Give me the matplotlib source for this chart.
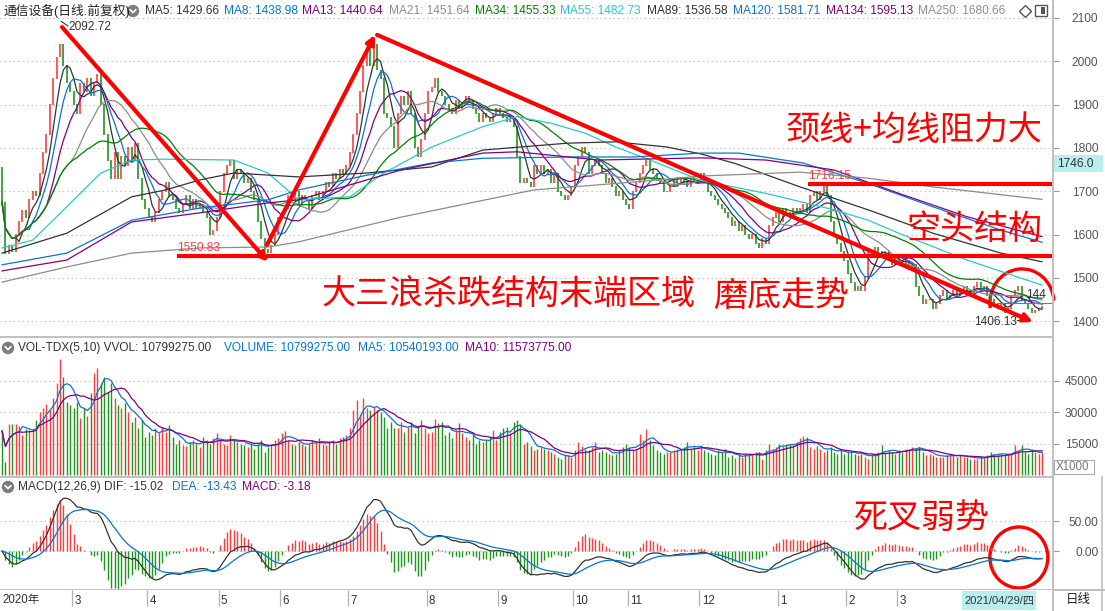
import matplotlib
matplotlib.use('Agg')
import matplotlib.pyplot as plt
from matplotlib.patches import Arc, Ellipse, Rectangle
from matplotlib.lines import Line2D
import numpy as np
import pandas as pd

plt.rcParams['font.family'] = ['Liberation Sans', 'Noto Sans CJK SC', 'DejaVu Sans']

# ---------------- data ----------------
# daily closes, 2020-01-23 .. 2021-04-29 (306 bars)
closes = [
    # Jan 23 + Feb 2020
    1675, 1555, 1575, 1560, 1600, 1630, 1655, 1640, 1680, 1700, 1690, 1740, 1790, 1830, 1900, 1960, 2010, 2040, 1990, 1950, 1930,
    # Mar
    1900, 1880, 1950, 1930, 1960, 1920, 1950, 1970, 1900, 1830, 1770, 1730, 1790, 1730, 1780, 1760, 1800, 1770, 1810, 1730, 1680, 1660,
    # Apr
    1640, 1630, 1650, 1680, 1700, 1720, 1690, 1680, 1660, 1650, 1670, 1690, 1660, 1680, 1660, 1670, 1650, 1640, 1600, 1610, 1640,
    # May
    1700, 1740, 1760, 1770, 1730, 1750, 1740, 1720, 1730, 1700, 1680, 1630, 1590, 1565, 1558, 1575, 1600, 1640,
    # Jun
    1650, 1660, 1690, 1680, 1700, 1670, 1690, 1680, 1660, 1690, 1700, 1680, 1700, 1720, 1710, 1740, 1730, 1750, 1740, 1760,
    # Jul
    1790, 1830, 1880, 1930, 1990, 2030, 1990, 2040, 1980, 1960, 1880, 1870, 1850, 1800, 1880, 1920, 1900, 1930, 1880, 1800, 1780, 1820, 1880,
    # Aug
    1930, 1940, 1960, 1930, 1920, 1900, 1890, 1880, 1910, 1890, 1900, 1920, 1910, 1890, 1880, 1860, 1880, 1870, 1860, 1880, 1890,
    # Sep
    1880, 1870, 1860, 1870, 1850, 1780, 1720, 1730, 1720, 1710, 1760, 1740, 1760, 1740, 1750, 1720, 1740, 1700, 1690, 1680, 1690, 1710,
    # Oct
    1760, 1780, 1800, 1790, 1740, 1760, 1770, 1760, 1740, 1720, 1730, 1710, 1690, 1700, 1680, 1670,
    # Nov
    1660, 1700, 1720, 1740, 1760, 1770, 1750, 1740, 1730, 1720, 1700, 1700, 1710, 1730, 1720, 1730, 1720, 1710, 1730, 1720, 1720,
    # Dec
    1740, 1720, 1700, 1690, 1680, 1670, 1660, 1650, 1640, 1620, 1630, 1610, 1620, 1600, 1590, 1600, 1580, 1570, 1590, 1580, 1620, 1640, 1650,
    # Jan 2021
    1630, 1660, 1650, 1640, 1660, 1650, 1660, 1670, 1650, 1690, 1700, 1680, 1700, 1710, 1690, 1630, 1600, 1580, 1560, 1540,
    # Feb
    1510, 1490, 1470, 1480, 1470, 1500, 1560, 1550, 1570, 1560, 1550, 1560, 1540, 1530, 1550,
    # Mar
    1540, 1530, 1540, 1520, 1530, 1480, 1460, 1440, 1450, 1450, 1430, 1440, 1460, 1470, 1450, 1460, 1470, 1460, 1470, 1480, 1470, 1460, 1480,
    # Apr
    1490, 1470, 1480, 1460, 1450, 1440, 1430, 1440, 1420, 1430, 1460, 1470, 1480, 1450, 1440, 1430, 1420, 1425, 1430, 1433,
]
first_open = 1756

# volume, x1000
volumes = [
    21000, 6200, 24300, 24300, 24300, 23300, 19000, 21700, 21400, 21700,
    26200, 30200, 31800, 34000, 31000, 36500, 43700, 55400, 46600, 35000,
    33400, 31800, 35000, 27000, 31800, 28100, 39000, 48500, 51000, 43700,
    46600, 39700, 43700, 36500, 33400, 31800, 34100, 30200, 25400, 27800,
    22200, 26200, 18200, 20600, 19000, 22200, 19800, 23000, 20600, 23800, 18200,
    15000, 16600, 14200, 13700, 15800, 16600, 14700, 13400, 18200, 16600,
    15000, 17400, 19800, 16600, 15000, 14200, 19000, 16600, 15800, 15000,
    14200, 13400, 15000, 12600, 14700, 16600, 11000, 13400, 15000, 16600,
    17400, 19800, 21000, 16600, 15000, 14200, 15800, 15000, 13700, 15000,
    16600, 15800, 17400, 15000, 14200, 15800, 16600, 15000, 17400, 18200,
    19000, 22200, 31000, 35700, 29000, 36500, 31800, 31000, 32600, 31000,
    30200, 27800, 22200, 25400, 22200, 22200, 25400, 20600, 23000, 25400,
    19800, 23000, 26200, 22200, 19800, 20600, 26900, 24600, 25400, 19000,
    20600, 17400, 21400, 24600, 19800, 18200, 16600, 19000, 15000, 16600,
    15800, 16600, 18200, 21400, 16600, 20600, 22200, 23000, 19800, 25400, 26200,
    24300, 15000, 15800, 13700, 11800, 12600, 13400, 12600, 11800, 11000,
    10200, 8600, 7800, 9400, 9400, 8600, 11800, 15800, 13700, 12600,
    11800, 13400, 15800, 11000, 11800, 11000, 10200, 9400, 10200, 11800,
    13400, 15000, 13400, 11800, 12600, 19300, 16600, 21700, 16600, 14200,
    11800, 11000, 10200, 11000, 11000, 11800, 12600, 12600, 13400, 15800,
    12600, 13400, 11800, 14200, 11800, 11000, 10200, 9400, 11800, 11000,
    12600, 8600, 9400, 8300, 9400, 8600, 10200, 9400, 10200, 11000,
    11000, 7800, 11800, 14700, 12600, 13400, 14700, 13700, 15000, 15000,
    14200, 15800, 17400, 18500, 18200, 13400, 12600, 13700, 12600, 11000,
    11800, 13400, 11000, 10200, 11800, 10200, 11000, 11000, 10200, 9400,
    10200, 8600, 7800, 10200, 9400, 11000, 14200, 11000, 11800, 11000,
    10200, 11800, 11000, 12600, 12600, 13400, 12600, 13400, 11000, 9400,
    10200, 9400, 8600, 8600, 8600, 9400, 10200, 9400, 8600, 9400,
    8600, 8600, 7800, 7800, 7800, 8600, 8600, 9400, 11000, 10200,
    9400, 10200, 9400, 10200, 10200, 14200, 11800, 14200, 11000, 10200,
    11800, 11000, 10200, 10800,
]

# long moving averages read at sample bars
ma55_bars = [0, 9, 19, 29, 38, 48, 58, 68, 78, 87, 102, 112, 126, 141, 151, 161, 171, 180, 190, 205, 224, 244, 254, 263, 283, 305]
ma55_vals = [1569, 1587, 1664, 1742, 1772, 1774, 1773, 1772, 1742, 1680, 1687, 1742, 1802, 1849, 1872, 1857, 1834, 1802, 1772, 1725, 1695, 1657, 1633, 1603, 1541, 1483]
ma89_bars = [0, 19, 38, 48, 58, 68, 87, 107, 126, 141, 166, 180, 195, 205, 215, 234, 254, 273, 293, 305]
ma89_vals = [1557, 1603, 1687, 1703, 1726, 1742, 1733, 1742, 1756, 1795, 1811, 1814, 1802, 1786, 1764, 1710, 1657, 1603, 1557, 1537]
ma120_bars = [0, 19, 38, 58, 78, 87, 107, 126, 141, 166, 185, 205, 216, 235, 254, 273, 293, 305]
ma120_vals = [1530, 1557, 1633, 1661, 1680, 1703, 1737, 1765, 1776, 1779, 1779, 1788, 1788, 1765, 1718, 1664, 1610, 1582]
ma134_bars = [0, 19, 38, 58, 78, 87, 117, 141, 151, 175, 205, 224, 244, 263, 283, 305]
ma134_vals = [1516, 1541, 1629, 1650, 1673, 1680, 1749, 1788, 1791, 1772, 1777, 1772, 1749, 1695, 1641, 1595]
ma250_bars = [0, 19, 38, 58, 78, 87, 117, 156, 185, 205, 234, 254, 273, 305]
ma250_vals = [1490, 1525, 1557, 1569, 1571, 1583, 1640, 1703, 1721, 1735, 1744, 1730, 1710, 1681]

month_bars = [0, 21, 43, 64, 82, 102, 125, 146, 168, 184, 205, 228, 248, 263]
month_labels = ['2020年', '3', '4', '5', '6', '7', '8', '9', '10', '11', '12', '1', '2', '3']

price_ticks = [1400, 1500, 1600, 1700, 1800, 1900, 2000, 2100]
vol_ticks = [15000, 30000, 45000]
macd_ticks = [0, 50]

# hand-drawn trend arrows: (bar, price) -> (bar, price)
trend_arrows = [((17.6, 2079), (78.0, 1537)),
                ((77.7, 1576), (109.4, 2061)),
                ((110.0, 2061), (302.3, 1398))]
neck_levels = [(1550.83, 51.3), (1716.15, 236.4)]

# ---------------- layout helpers ----------------
W, H = 1105, 611
RED = '#ff3c3c'
GREEN = '#1e961e'
C_DARK = '#333333'
C_BLUE = '#0a74d0'
C_PURPLE = '#800080'
C_GRAY = '#8c8c8c'
C_GREEN = '#008000'
C_CYAN = '#2cc8c8'
ANNO = '#ff0000'


def box(x0, y0, x1, y1):
    return [x0 / W, 1 - y1 / H, (x1 - x0) / W, (y1 - y0) / H]


def fx(x):
    return x / W


def fy(y):
    return 1 - y / H


fig = plt.figure(figsize=(W / 100, H / 100), dpi=100)
fig.patch.set_facecolor('white')

PLOT_R = 1053
ax_p = fig.add_axes(box(0, 0, PLOT_R, 337))
ax_v = fig.add_axes(box(0, 337, PLOT_R, 477))
ax_m = fig.add_axes(box(0, 477, PLOT_R, 590))
ax_d = fig.add_axes(box(0, 590, PLOT_R, 611))

n = len(closes)
x = np.arange(n)
xlim = (-2 / 3.41, (PLOT_R - 2) / 3.41)

c = np.array(closes, dtype=float)
o = np.r_[first_open, c[:-1]]
up = c >= o
colors = np.where(up, RED, GREEN)

# ---------------- price panel ----------------
lo = np.minimum(o, c) - 1
hi = np.maximum(o, c) + 1
ax_p.vlines(x, lo, hi, colors=colors, lw=1.2)

s = pd.Series(c)
for win, col in [(5, C_DARK), (8, C_BLUE), (13, C_PURPLE), (21, C_GRAY), (34, C_GREEN)]:
    ax_p.plot(x, s.rolling(win, min_periods=1).mean(), color=col, lw=0.9)
for bars, vals, col in [(ma55_bars, ma55_vals, C_CYAN), (ma89_bars, ma89_vals, C_DARK),
                        (ma120_bars, ma120_vals, C_BLUE), (ma134_bars, ma134_vals, C_PURPLE),
                        (ma250_bars, ma250_vals, C_GRAY)]:
    ax_p.plot(bars, vals, color=col, lw=0.9)

ax_p.set_xlim(xlim)
ax_p.set_ylim(2100 - 319 / 0.433, 2100 + 18 / 0.433)

# annotations drawn on the chart
for (x0, y0), (x1, y1) in trend_arrows:
    ax_p.annotate('', xy=(x1, y1), xytext=(x0, y0),
                  arrowprops=dict(arrowstyle='-|>', color=ANNO, lw=3, mutation_scale=12,
                                  shrinkA=0, shrinkB=0))
for lvl, start in neck_levels:
    ax_p.plot([start, xlim[1]], [lvl, lvl], color=ANNO, lw=3, solid_capstyle='butt')
ax_p.add_patch(Arc((299.1, 1442), 18.8, 157, theta1=30, theta2=232, color=ANNO, lw=2.4, clip_on=False))

ax_p.text(19.6, 2080, '2092.72', color=C_DARK, fontsize=8.6, va='center', ha='left')
ax_p.plot([17.4, 19.3], [2092, 2082], color=C_DARK, lw=0.8)
ax_p.text(51.3, 1569, '1550.83', color=RED, fontsize=8.6, va='center', ha='left')
ax_p.text(236.4, 1735, '1716.15', color=RED, fontsize=8.6, va='center', ha='left')
ax_p.text(297.6, 1399, '1406.13', color=C_DARK, fontsize=8.6, va='center', ha='right')
ax_p.plot([297.8, 301.5], [1403, 1403], color=C_DARK, lw=0.8)
ax_p.plot([292.5, xlim[1]], [1442, 1442], color='#777777', lw=0.8)
ax_p.text(300.3, 1460, '144', color=C_DARK, fontsize=8.6, va='center', ha='left', clip_on=False)

# ---------------- volume panel ----------------
v = np.array(volumes, dtype=float)
ax_v.vlines(x, 0, v, colors=colors, lw=1.0)
vs = pd.Series(v)
ax_v.plot(x, vs.rolling(5, min_periods=1).mean(), color=C_BLUE, lw=0.9)
ax_v.plot(x, vs.rolling(10, min_periods=1).mean(), color=C_PURPLE, lw=0.9)
ax_v.set_xlim(xlim)
ax_v.set_ylim(-2 / 31.5 * 15000, 138 / 31.5 * 15000)

# ---------------- MACD panel ----------------
ema12 = s.ewm(span=12, adjust=False).mean()
ema26 = s.ewm(span=26, adjust=False).mean()
dif = ema12 - ema26
dea = dif.ewm(span=9, adjust=False).mean()
hist = 2 * (dif - dea)
ax_m.vlines(x, 0, hist, colors=np.where(hist >= 0, RED, GREEN), lw=1.0)
ax_m.plot(x, dif, color=C_DARK, lw=0.9)
ax_m.plot(x, dea, color=C_BLUE, lw=0.9)
ax_m.set_xlim(xlim)
ax_m.set_ylim(-39 / 0.6, 74 / 0.6)
ax_m.add_patch(Ellipse((298.2, -10.8), 17, 101.7, fill=False, color=ANNO, lw=2.4, clip_on=False))

# ---------------- axes styling ----------------
DOT = (0, (1, 3))
for ax, ticks, fmt in [(ax_p, price_ticks, '{:.0f}'), (ax_v, vol_ticks, '{:.0f}'),
                       (ax_m, macd_ticks, '{:.2f}')]:
    ax.set_yticks(ticks)
    ax.set_yticklabels([fmt.format(t) for t in ticks])
    ax.yaxis.tick_right()
    ax.tick_params(axis='y', length=4, width=0.8, color='#999999',
                   labelcolor='#555555', labelsize=8.6, pad=28.5)
    for lab in ax.get_yticklabels():
        lab.set_horizontalalignment('right')
    ax.set_xticks([])
    for t in ticks:
        ax.axhline(t, color='#b4b4b4', lw=0.8, ls=DOT, zorder=0)
    for side in ('left', 'top'):
        ax.spines[side].set_visible(False)
    for side in ('right', 'bottom'):
        ax.spines[side].set_color('#c0c0c0')
        ax.spines[side].set_linewidth(1.4)
    ax.set_facecolor('none')

ax_d.set_xlim(xlim)
ax_d.set_ylim(0, 1)
ax_d.set_xticks([])
ax_d.set_yticks([])
for side in ('left', 'top', 'bottom'):
    ax_d.spines[side].set_visible(False)
ax_d.spines['right'].set_color('#c0c0c0')
ax_d.spines['right'].set_linewidth(1.4)
for b, lab in zip(month_bars, month_labels):
    if b > 0:
        ax_d.vlines(b - 0.5, 0.25, 1.0, color='#b0b0b0', lw=0.9)
        ax_d.text(b + 0.2, 0.5, lab, fontsize=8.3, color=C_DARK, va='center', ha='left')
    else:
        ax_d.text(0, 0.5, lab, fontsize=8.3, color=C_DARK, va='center', ha='left')

# ---------------- header texts ----------------
def head(px, py, txt, col, size=8.6):
    fig.text(fx(px), fy(py), txt, color=col, fontsize=size, va='center', ha='left')


def icon(px, py):
    fig.add_artist(Ellipse((fx(px), fy(py)), 11 / W, 11 / H, transform=fig.transFigure,
                           color='#7c7c7c'))
    fig.add_artist(Line2D([fx(px - 2.8), fx(px), fx(px + 2.8)],
                          [fy(py - 1.2), fy(py + 1.6), fy(py - 1.2)],
                          transform=fig.transFigure, color='white', lw=1.2))


head(3, 11, '通信设备(日线.前复权)', '#222222', 9.2)
icon(133, 11)
for px, txt, col in [(145, 'MA5: 1429.66', C_DARK), (224, 'MA8: 1438.98', C_BLUE),
                     (302, 'MA13: 1440.64', C_PURPLE), (389, 'MA21: 1451.64', C_GRAY),
                     (475, 'MA34: 1455.33', C_GREEN), (560, 'MA55: 1482.73', C_CYAN),
                     (647, 'MA89: 1536.58', C_DARK), (733, 'MA120: 1581.71', C_BLUE),
                     (826, 'MA134: 1595.13', C_PURPLE), (918, 'MA250: 1680.66', C_GRAY)]:
    head(px, 11, txt, col)
fig.add_artist(Line2D([fx(1025)], [fy(11)], transform=fig.transFigure, marker='D',
                      markersize=6.5, markerfacecolor='none', markeredgecolor='#555555', lw=0))
fig.add_artist(Rectangle((fx(1035), fy(16)), 12 / W, 11 / H, transform=fig.transFigure,
                         facecolor='white', edgecolor='#555555', lw=1))
fig.add_artist(Rectangle((fx(1041), fy(14)), 4 / W, 7 / H, transform=fig.transFigure,
                         facecolor='#555555', lw=0))

icon(8, 348)
head(18, 348, 'VOL-TDX(5,10) VVOL: 10799275.00', C_DARK)
head(224, 348, 'VOLUME: 10799275.00', C_BLUE)
head(358, 348, 'MA5: 10540193.00', C_BLUE)
head(465, 348, 'MA10: 11573775.00', C_PURPLE)

icon(8, 487)
head(18, 487, 'MACD(12,26,9) DIF: -15.02', C_DARK)
head(172, 487, 'DEA: -13.43', C_BLUE)
head(242, 487, 'MACD: -3.18', C_PURPLE)

# right column boxes
fig.add_artist(Rectangle((fx(1054), fy(172)), 49 / W, 17 / H, transform=fig.transFigure,
                         facecolor='#b8eeee', lw=0))
fig.text(fx(1057), fy(163.5), '1746.0', fontsize=8.6, color=C_DARK, va='center', ha='left')
fig.add_artist(Rectangle((fx(1054), fy(474)), 40 / W, 14 / H, transform=fig.transFigure,
                         facecolor='white', edgecolor='#aaaaaa', lw=0.8))
fig.text(fx(1056), fy(467), 'X1000', fontsize=8.3, color='#777777', va='center', ha='left')
fig.add_artist(Rectangle((fx(962), fy(610)), 74 / W, 19 / H, transform=fig.transFigure,
                         facecolor='#b8eeee', lw=0))
fig.text(fx(999), fy(600.5), '2021/04/29/四', fontsize=8, color=C_DARK, va='center', ha='center')
fig.text(fx(1078), fy(600.5), '日线', fontsize=9, color='#222222', va='center', ha='center')
fig.add_artist(Line2D([fx(1054), fx(1104)], [fy(590), fy(590)], transform=fig.transFigure,
                      color='#c0c0c0', lw=1.4))
fig.add_artist(Line2D([fx(1102), fx(1102)], [fy(477), fy(611)], transform=fig.transFigure,
                      color='#c0c0c0', lw=1.2))

# big red comments
big = dict(color=ANNO, fontsize=24.5, family=['Noto Sans CJK SC'], fontweight='light',
           va='center', ha='left')
fig.text(fx(786), fy(130), '颈线+均线阻力大', **big)
fig.text(fx(906), fy(229), '空头结构', **big)
fig.text(fx(322), fy(294), '大三浪杀跌结构末端区域', **big)
fig.text(fx(713), fy(296), '磨底走势', **big)
fig.text(fx(854), fy(518), '死叉弱势', **big)

fig.savefig('out.png', dpi=100)
